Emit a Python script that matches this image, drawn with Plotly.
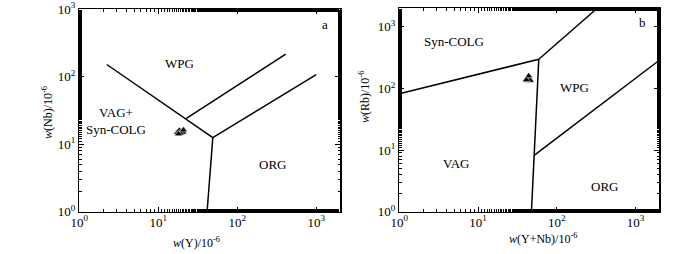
import plotly.graph_objects as go

# ---- data (panel a: Y vs Nb) ----
a_line1_x = [2.23, 49]
a_line1_y = [152, 12.5]
a_line2_x = [41.5, 49]
a_line2_y = [1, 12.5]
a_line3_x = [49, 1000]
a_line3_y = [12.5, 108]
a_line4_x = [22.7, 411]
a_line4_y = [24.2, 217]
a_pts_x = [17.5, 18.5, 19.5, 20.5, 19.0, 20.8, 18.0]
a_pts_y = [15.0, 16.0, 15.5, 15.0, 14.5, 16.2, 14.2]

# ---- data (panel b: Y+Nb vs Rb) ----
b_line1_x = [1, 59]
b_line1_y = [82, 298]
b_line2_x = [59, 326]
b_line2_y = [298, 2000]
b_line3_x = [47.6, 59]
b_line3_y = [1, 298]
b_line4_x = [51.5, 2000]
b_line4_y = [8.2, 287]
b_pts_x = [42, 44, 45, 43, 46, 44, 41]
b_pts_y = [135, 150, 140, 145, 135, 160, 138]

tick_vals = [1, 10, 100, 1000]
tick_text = ["10<sup>0</sup>", "10<sup>1</sup>", "10<sup>2</sup>", "10<sup>3</sup>"]

FONT = "Liberation Serif"
W, H = 700, 254
OFF = 0  # body margin removed via post_script

def px(x):
    return (x - OFF) / W

def py(y):
    return 1 - (y - OFF) / H

fig = go.Figure()

def add_line(x, y, xa, ya):
    fig.add_trace(go.Scatter(x=x, y=y, mode="lines", xaxis=xa, yaxis=ya,
                             line=dict(color="black", width=1.5), showlegend=False,
                             hoverinfo="skip"))

for xs, ys in [(a_line1_x, a_line1_y), (a_line2_x, a_line2_y), (a_line3_x, a_line3_y), (a_line4_x, a_line4_y)]:
    add_line(xs, ys, "x", "y")
for xs, ys in [(b_line1_x, b_line1_y), (b_line2_x, b_line2_y), (b_line3_x, b_line3_y), (b_line4_x, b_line4_y)]:
    add_line(xs, ys, "x2", "y2")

fig.add_trace(go.Scatter(x=a_pts_x, y=a_pts_y, mode="markers", xaxis="x", yaxis="y",
                         marker=dict(symbol="triangle-up", size=7, color="black",
                                     line=dict(color="white", width=0.5)), showlegend=False))
fig.add_trace(go.Scatter(x=b_pts_x, y=b_pts_y, mode="markers", xaxis="x2", yaxis="y2",
                         marker=dict(symbol="triangle-up", size=7, color="black",
                                     line=dict(color="white", width=0.5)), showlegend=False))

def axis(domain, rng, anchor, standoff=0):
    return dict(type="log", domain=domain, range=rng, anchor=anchor, automargin=False,
                showline=True, mirror="ticks", linecolor="black", linewidth=1.5,
                ticks="inside", ticklen=5, tickwidth=1, tickcolor="black",
                tickvals=tick_vals, ticktext=tick_text, ticklabelstandoff=standoff,
                minor=dict(ticks="inside", ticklen=2.5, tickwidth=1, tickcolor="black", showgrid=False),
                showgrid=False, zeroline=False,
                tickfont=dict(family=FONT, size=13, color="black"))

fig.update_layout(
    template="none",
    width=W, height=H,
    margin=dict(l=0, r=0, t=0, b=0, pad=0),
    paper_bgcolor="white", plot_bgcolor="white",
    font=dict(family=FONT, size=12, color="black"),
    xaxis=axis([px(79.3), px(340)], [0, 3.301], "y", -2),
    yaxis=axis([py(211.7), py(9.3)], [0, 3.0001], "x"),
    xaxis2=axis([px(399.3), px(659.3)], [0, 3.301], "y2", -2),
    yaxis2=axis([py(211.7), py(8.3)], [0, 3.301], "x2"),
)

def ann(text, x, y, xref, yref, **kw):
    fig.add_annotation(text=text, x=x, y=y, xref=xref, yref=yref, showarrow=False,
                       xanchor="center", yanchor="middle",
                       font=dict(family=FONT, size=kw.pop("size", 13), color="black"), **kw)

# panel a labels (log coords for data refs)
ann("WPG", 1.27, 2.2, "x", "y")
ann("VAG+<br>Syn-COLG", 0.47, 1.34, "x", "y")
ann("ORG", 2.44, 0.70, "x", "y")
ann("a", 3.11, 2.78, "x", "y")
# panel b labels
ann("Syn-COLG", 0.70, 2.763, "x2", "y2")
ann("WPG", 2.225, 2.02, "x2", "y2")
ann("VAG", 0.722, 0.79, "x2", "y2")
ann("ORG", 2.60, 0.408, "x2", "y2")
ann("b", 3.09, 3.07, "x2", "y2")

# axis titles
ann("<i>w</i>(Y)/10<sup>-6</sup>", px(196.7), py(242), "paper", "paper", size=12)
ann("<i>w</i>(Nb)/10<sup>-6</sup>", px(47), py(113), "paper", "paper", textangle=-90, size=12)
ann("<i>w</i>(Y+Nb)/10<sup>-6</sup>", px(542.7), py(238), "paper", "paper", size=12)
ann("<i>w</i>(Rb)/10<sup>-6</sup>", px(364), py(97), "paper", "paper", textangle=-90, size=12)

fig.write_html("out.html", config={"displayModeBar": False, "staticPlot": True},
               post_script="document.body.style.margin='0';")
